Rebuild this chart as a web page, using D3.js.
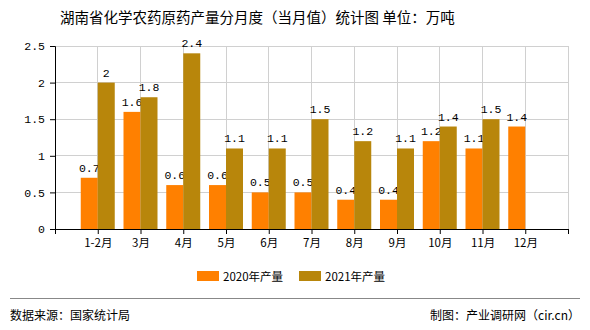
<!DOCTYPE html>
<html><head><meta charset="utf-8">
<script src="https://cdn.jsdelivr.net/npm/d3@7"></script>
<style>body{margin:0;background:#fff}svg{display:block}</style>
</head><body>
<script>
const categories = ["1-2月","3月","4月","5月","6月","7月","8月","9月","10月","11月","12月"];
const values2020 = [0.7,1.6,0.6,0.6,0.5,0.5,0.4,0.4,1.2,1.1,1.4];
const values2021 = [2,1.8,2.4,1.1,1.1,1.5,1.2,1.1,1.4,1.5,null];
const seriesNames = ["2020年产量","2021年产量"];
const colors = ["#FF8000","#B8860B"];
const yTicks = [0,0.5,1,1.5,2,2.5];

(function(){
const W=590,H=330;
const svg=d3.select("body").append("svg").attr("width",W).attr("height",H);
const pL=55,pR=568,pT=46,pB=229;
const x=d3.scaleLinear().domain([0,categories.length+1]).range([pL,pR]);
const y=d3.scaleLinear().domain([0,2.5]).range([pB,pT]);
const bw=17;
const cjk='"Noto Sans CJK SC","Noto Sans",sans-serif';
const mono='"Liberation Mono","DejaVu Sans Mono",monospace';

svg.append("text").attr("x",60).attr("y",23).attr("font-family",cjk).attr("font-size",14.5)
  .attr("fill","#000").text("湖南省化学农药原药产量分月度（当月值）统计图 单位：万吨");

const xt=d3.range(0,categories.length+2);
svg.append("g").selectAll("line").data(yTicks.filter(d=>d>0)).join("line")
  .attr("x1",pL).attr("x2",pR).attr("y1",d=>y(d)).attr("y2",d=>y(d))
  .attr("stroke","#d0d0d0").attr("stroke-width",1).attr("shape-rendering","crispEdges");
svg.append("g").selectAll("line").data(xt.slice(1)).join("line")
  .attr("x1",d=>x(d)).attr("x2",d=>x(d)).attr("y1",pT).attr("y2",pB)
  .attr("stroke","#d0d0d0").attr("stroke-width",1).attr("shape-rendering","crispEdges");

const all=[values2020,values2021];
all.forEach((vals,s)=>{
  const g=svg.append("g");
  const data=vals.map((v,i)=>({v,i})).filter(d=>d.v!=null);
  g.selectAll("rect").data(data).join("rect")
    .attr("x",d=>x(d.i+1)+(s===0?-bw:0)).attr("width",bw)
    .attr("y",d=>y(d.v)).attr("height",d=>y(0)-y(d.v)).attr("fill",colors[s]);
  g.selectAll("text").data(data).join("text")
    .attr("x",d=>x(d.i+1)+(s===0?-bw/2:bw/2)).attr("y",d=>y(d.v)-6)
    .attr("text-anchor","middle").attr("font-family",mono).attr("font-size",11.5)
    .attr("fill","#000").text(d=>d.v);
});

const ya=d3.axisLeft(y).tickValues(yTicks).tickSize(5).tickFormat(d=>d);
const yg=svg.append("g").attr("transform",`translate(${pL},0)`).call(ya);
yg.select(".domain").attr("stroke","#000");
yg.selectAll("text").attr("font-family",mono).attr("font-size",11.5).attr("fill","#000").attr("dx",-2);
const xa=d3.axisBottom(x).tickValues(xt).tickSize(5).tickFormat(d=>(d>=1&&d<=categories.length)?categories[d-1]:"");
const xg=svg.append("g").attr("transform",`translate(0,${pB})`).call(xa);
xg.select(".domain").attr("stroke","#000");
xg.selectAll("text").attr("font-family",cjk).attr("font-size",11.5).attr("fill","#000").attr("dy","0.9em");

const lx=[197,299];
seriesNames.forEach((n,i)=>{
  svg.append("rect").attr("x",lx[i]).attr("y",271).attr("width",22).attr("height",10).attr("fill",colors[i]);
  svg.append("text").attr("x",lx[i]+26).attr("y",280.5).attr("font-family",cjk).attr("font-size",11.5).attr("fill","#000").text(n);
});

svg.append("line").attr("x1",10).attr("x2",580).attr("y1",298.5).attr("y2",298.5).attr("stroke","#888");
svg.append("text").attr("x",10).attr("y",320).attr("font-family",cjk).attr("font-size",12).attr("fill","#000").text("数据来源：国家统计局");
svg.append("text").attr("x",580).attr("y",320).attr("text-anchor","end").attr("font-family",cjk).attr("font-size",12).attr("fill","#000").text("制图：产业调研网（cir.cn）");
})();
</script>
</body></html>
